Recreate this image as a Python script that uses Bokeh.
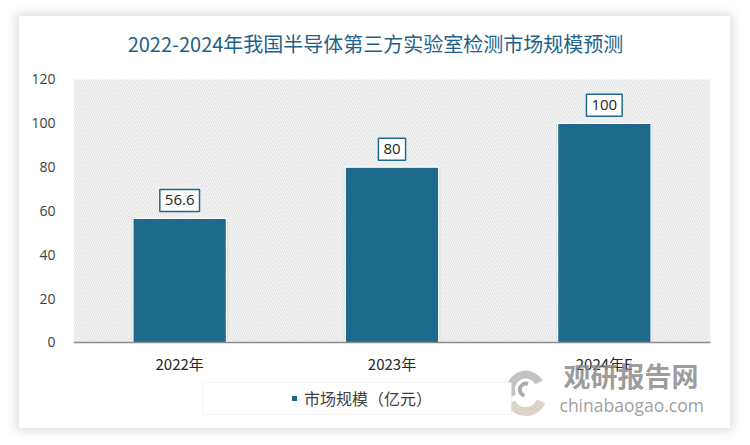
from bokeh.plotting import figure
from bokeh.models import (ColumnDataSource, BoxAnnotation, Legend, LegendItem,
                          Label, FactorRange, Range1d)
from bokeh.embed import file_html
from bokeh.resources import INLINE

# ---- data ----
years = ["2022年", "2023年", "2024年E"]
market_size = [56.6, 80, 100]
labels = ["56.6", "80", "100"]
y_ticks = [0, 20, 40, 60, 80, 100, 120]
series_name = "市场规模（亿元）"
title_text = "2022-2024年我国半导体第三方实验室检测市场规模预测"

BAR = "#1d6a8d"
CJK = "Noto Sans CJK SC"

src = ColumnDataSource(dict(year=years, value=market_size, label=labels))

# frame spans the whole card height so that title / legend / watermark live inside it
p = figure(x_range=FactorRange(*years), y_range=Range1d(-39.24, 148.74),
           width=711, height=412, output_backend="svg", toolbar_location=None,
           min_border_left=54, min_border_right=20, min_border_top=0, min_border_bottom=0,
           margin=(16, 0, 0, 19),
           styles={"box-shadow": "0 0 9px 3px rgba(0,0,0,0.13)"},
           background_fill_color="white", border_fill_color="white")

p.outline_line_color = None
p.xgrid.grid_line_color = None
p.ygrid.grid_line_color = None

# title
p.add_layout(Label(x=302, y=385, x_units="screen", y_units="screen", text=title_text,
                   text_align="center", text_baseline="middle",
                   text_font=CJK, text_font_size="20px", text_color="#1f6189"))

# hatched plot background (0..120)
p.add_layout(BoxAnnotation(bottom=0, top=120, fill_alpha=0, line_color=None,
                           hatch_pattern="\\", hatch_color="#dadada",
                           hatch_scale=4.5, hatch_weight=1, level="underlay"))

# shadow + bars
p.vbar(x="year", top="value", width=0.455, source=src, fill_color="#bfbfbf",
       fill_alpha=0.35, line_color=None)
r = p.vbar(x="year", top="value", width=0.44, source=src, fill_color=BAR,
           line_color="white", line_width=1.2)

# value labels (boxed), at each factor's centre
for i, (v, t) in enumerate(zip(market_size, labels)):
    p.add_layout(Label(x=i + 0.5, y=v, text=t,
                       text_align="center", text_baseline="middle", y_offset=18,
                       text_font="Open Sans", text_font_size="15px", text_color="#262626",
                       background_fill_color="white", border_line_color=BAR,
                       border_line_width=1.5,
                       padding=dict(left=5, right=5, top=6, bottom=6)))

# axes
p.yaxis.ticker = y_ticks
p.yaxis.axis_line_color = None
p.yaxis.major_tick_line_color = None
p.yaxis.minor_tick_line_color = None
p.yaxis.major_label_text_font = "Open Sans"
p.yaxis.major_label_text_font_size = "14px"
p.yaxis.major_label_text_color = "#404040"
p.yaxis.major_label_standoff = 12

p.xaxis.fixed_location = 0
p.xaxis.axis_line_color = "#8c8c8c"
p.xaxis.axis_line_width = 1.5
p.xaxis.major_tick_line_color = None
p.xaxis.minor_tick_line_color = None
p.xaxis.major_label_text_font = CJK
p.xaxis.major_label_text_font_size = "15px"
p.xaxis.major_label_text_color = "#262626"
p.xaxis.major_label_standoff = 5

# legend frame
p.add_layout(BoxAnnotation(left=129, right=438, bottom=14, top=46,
                           left_units="screen", right_units="screen",
                           bottom_units="screen", top_units="screen",
                           fill_color="white", fill_alpha=1,
                           line_color="#d9d9d9", line_width=1))

legend = Legend(items=[LegendItem(label=series_name, renderers=[r])],
                location=(217, 15), orientation="horizontal",
                padding=0, margin=0, spacing=0,
                glyph_width=8, glyph_height=8, label_standoff=6,
                label_text_font=CJK, label_text_font_size="16px",
                label_text_color="#404040", label_height=30,
                border_line_color=None, background_fill_alpha=0)
p.add_layout(legend, "center")

# watermark (logo swirl + text)
p.annular_wedge(x=[2.13], y=[-21.5], inner_radius=11, outer_radius=19,
                inner_radius_units="screen", outer_radius_units="screen",
                start_angle=0.5, end_angle=3.6, fill_color="#b4b4b4", fill_alpha=0.8,
                line_color=None)
p.annular_wedge(x=[2.13], y=[-24.0], inner_radius=12, outer_radius=21,
                inner_radius_units="screen", outer_radius_units="screen",
                start_angle=3.6, end_angle=5.9, fill_color="#d8cfc0", fill_alpha=0.9,
                line_color=None)
p.annular_wedge(x=[2.13], y=[-21.5], inner_radius=4, outer_radius=8,
                inner_radius_units="screen", outer_radius_units="screen",
                start_angle=1.2, end_angle=4.5, fill_color="#9a9a9a", fill_alpha=0.8,
                line_color=None)
p.add_layout(Label(x=490, y=34, x_units="screen", y_units="screen", text="观研报告网",
                   text_font=CJK, text_font_size="27px", text_font_style="bold",
                   text_color="#8c8c8c", text_alpha=0.85))
p.add_layout(Label(x=486, y=12, x_units="screen", y_units="screen", text="chinabaogao.com",
                   text_font="Open Sans", text_font_size="17.5px",
                   text_color="#8c8c8c", text_alpha=0.85))

open("out.html", "w").write(file_html(p, INLINE))
